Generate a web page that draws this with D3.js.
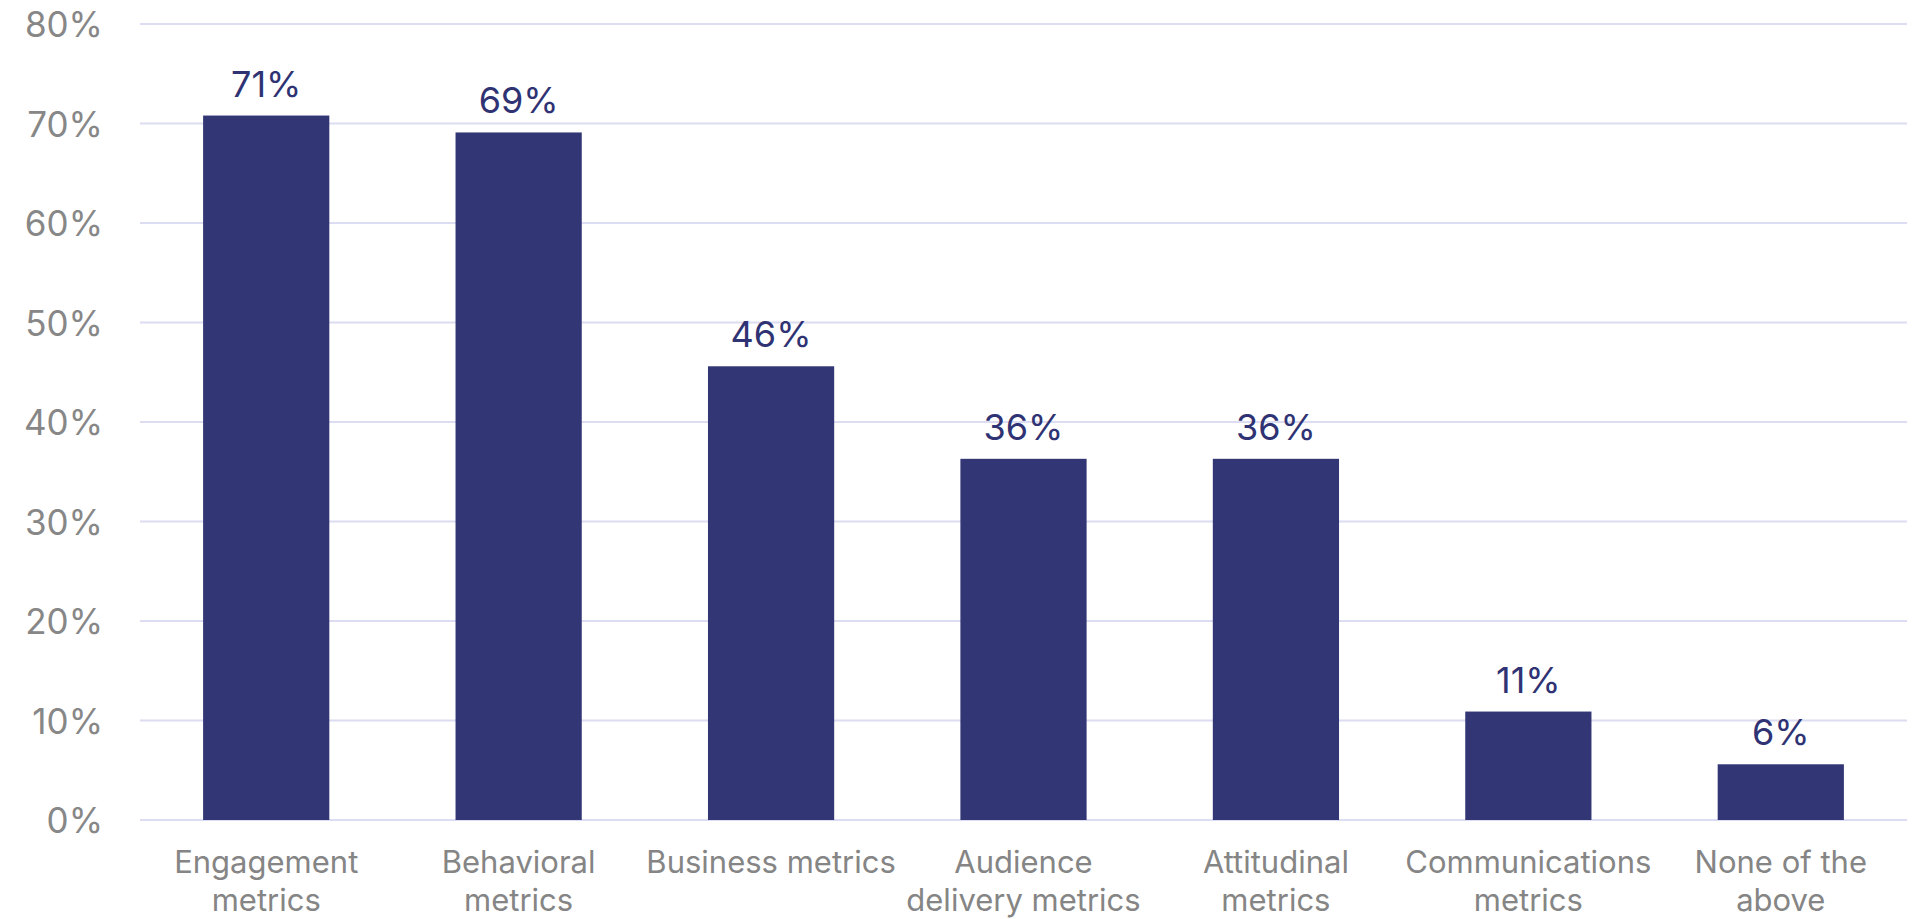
<!DOCTYPE html>
<html>
<head>
<meta charset="utf-8">
<script src="https://cdn.jsdelivr.net/npm/d3@7"></script>
<style>
  html, body { margin: 0; padding: 0; background: #ffffff; }
  svg { display: block; }
  text { font-family: Inter, "Noto Sans", sans-serif; }
</style>
</head>
<body>
<svg id="chart" width="1916" height="919"></svg>
<script>
// Share of respondents using each type of metric
const categories = [
  ["Engagement", "metrics"],
  ["Behavioral", "metrics"],
  ["Business metrics"],
  ["Audience", "delivery metrics"],
  ["Attitudinal", "metrics"],
  ["Communications", "metrics"],
  ["None of the", "above"]
];
const values = [70.8, 69.1, 45.6, 36.3, 36.3, 10.9, 5.6];
const yTicks = [0, 10, 20, 30, 40, 50, 60, 70, 80];

const svg = d3.select("#chart");
const plotLeft = 140, plotRight = 1907, plotTop = 24, plotBottom = 820;

const x = d3.scaleBand()
  .domain(d3.range(categories.length))
  .range([plotLeft, plotRight])
  .paddingInner(0.5)
  .paddingOuter(0.25);

const y = d3.scaleLinear().domain([0, 80]).range([plotBottom, plotTop]);

// horizontal gridlines
svg.append("g").selectAll("line")
  .data(yTicks)
  .join("line")
  .attr("x1", plotLeft).attr("x2", plotRight)
  .attr("y1", d => y(d)).attr("y2", d => y(d))
  .attr("stroke", "#dcdcf2")
  .attr("stroke-width", 2);

// y axis labels
const yAxis = d3.axisLeft(y).tickValues(yTicks).tickFormat(d => d + "%").tickSize(0).tickPadding(0);
const gy = svg.append("g").attr("transform", `translate(${plotLeft - 37},0)`).call(yAxis);
gy.select(".domain").remove();
gy.selectAll("text")
  .attr("fill", "#878787")
  .style("font-size", "35px")
  .style("font-family", "Inter, sans-serif")
  .attr("dy", "0.36em");

// bars
svg.append("g").selectAll("rect")
  .data(values)
  .join("rect")
  .attr("x", (d, i) => x(i))
  .attr("width", x.bandwidth())
  .attr("y", d => y(d))
  .attr("height", d => y(0) - y(d))
  .attr("fill", "#323674");

// value labels
const fmt = d3.format(".0f");
svg.append("g").selectAll("text")
  .data(values)
  .join("text")
  .attr("x", (d, i) => x(i) + x.bandwidth() / 2)
  .attr("y", d => y(d) - 19)
  .attr("text-anchor", "middle")
  .attr("fill", "#2f3373")
  .style("font-size", "36px")
  .text(d => fmt(d) + "%");

// category labels
const cat = svg.append("g").selectAll("text")
  .data(categories)
  .join("text")
  .attr("x", (d, i) => x(i) + x.bandwidth() / 2)
  .attr("y", 873)
  .attr("text-anchor", "middle")
  .attr("fill", "#858585")
  .style("font-size", "31px");
cat.selectAll("tspan")
  .data(d => d)
  .join("tspan")
  .attr("x", function () { return d3.select(this.parentNode).attr("x"); })
  .attr("dy", (d, i) => i === 0 ? 0 : 38)
  .text(d => d);
</script>
</body>
</html>
